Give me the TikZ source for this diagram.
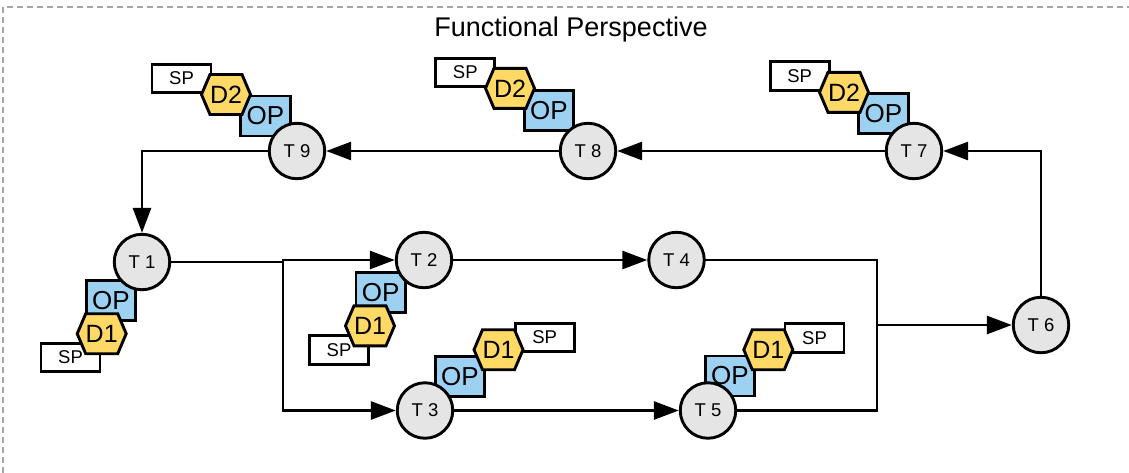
\documentclass[tikz,border=0pt]{standalone}
\usepackage{fontspec}
\setmainfont{Liberation Sans}
\usetikzlibrary{arrows.meta,calc}

\definecolor{opblue}{HTML}{9DD1F2}
\definecolor{dyellow}{HTML}{FFD966}
\definecolor{tgray}{HTML}{E5E5E5}
\definecolor{framegray}{HTML}{A6A6A6}

\tikzset{
  stroke/.style={line width=2.9pt},
  task/.style={circle, stroke, draw=black, fill=tgray, minimum size=55.5pt,
    inner sep=0pt, font=\fontsize{18.5}{20}\selectfont},
  opbox/.style={rectangle, stroke, draw=black, fill=opblue, minimum width=49.5pt,
    minimum height=40pt, inner sep=0pt, font=\fontsize{26}{28}\selectfont},
  spbox/.style={rectangle, stroke, draw=black, fill=white, minimum width=59pt,
    minimum height=28.5pt, inner sep=0pt, font=\fontsize{18.5}{20}\selectfont},
  hexshape/.style={stroke, draw=black, fill=dyellow, line join=miter},
  hexlabel/.style={inner sep=0pt, font=\fontsize{25}{27}\selectfont},
  flow/.style={line width=2.9pt, -{Triangle[length=25pt,width=18pt]}},
  link/.style={line width=2.9pt, line cap=rect},
  titletext/.style={inner sep=0pt, anchor=base, font=\fontsize{27}{30}\selectfont},
  frameline/.style={draw=framegray, line width=2pt, dash pattern=on 6pt off 4pt},
}

% yellow data hexagon with a named label node: name, centre, text
\newcommand\datahex[3]{%
  \draw[hexshape] (#2) ++(-24.5,0) -- ++(8.5,-20) -- ++(32,0) -- ++(8.5,20)
    -- ++(-8.5,20) -- ++(-32,0) -- cycle;
  \node[hexlabel] (#1) at (#2) {#3};}

\begin{document}
\begin{tikzpicture}[x=1pt,y=-1pt]
\useasboundingbox (0,0) rectangle (1129,472);
\clip (0,0) rectangle (1129,472);

% outer dashed frame and heading
\draw[frameline] (3,7) rectangle (1140,490);
\node[titletext] (title) at (571,36) {Functional Perspective};

% T9 group
\node[spbox] (sp9) at (181.5,78.5) {SP};
\node[opbox] (op9) at (265.5,116) {OP};
\datahex{d9}{226,94.5}{D2}
\node[task] (t9) at (297,151) {T 9};

% T8 group
\node[spbox] (sp8) at (465.3,72.5) {SP};
\node[opbox] (op8) at (548.8,110.8) {OP};
\datahex{d8}{510,88.3}{D2}
\node[task] (t8) at (588,151) {T 8};

% T7 group
\node[spbox] (sp7) at (799.7,75.8) {SP};
\node[opbox] (op7) at (883.3,113.3) {OP};
\datahex{d7}{844,92.3}{D2}
\node[task] (t7) at (914,151) {T 7};

% T1 group
\node[spbox] (sp1) at (70.5,357.5) {SP};
\node[opbox] (op1) at (111,300.5) {OP};
\datahex{d1}{101.7,333.7}{D1}
\node[task] (t1) at (142,262) {T 1};

% T2 group
\node[spbox] (sp2) at (339,350) {SP};
\node[opbox] (op2) at (380.7,292.7) {OP};
\datahex{d2}{370,325.8}{D1}
\node[task] (t2) at (424,260) {T 2};

% T3 group
\node[spbox] (sp3) at (544.7,337.5) {SP};
\node[opbox] (op3) at (460,376.3) {OP};
\datahex{d3}{498.5,349.7}{D1}
\node[task] (t3) at (425,410.5) {T 3};

% T5 group
\node[spbox] (sp5) at (814.5,337.8) {SP};
\node[opbox] (op5) at (730,376) {OP};
\datahex{d5}{768.3,349.7}{D1}
\node[task] (t5) at (708,410.5) {T 5};

% lone tasks
\node[task] (t4) at (676.5,260) {T 4};
\node[task] (t6) at (1041,325) {T 6};

% junction points
\coordinate (fork) at (283,262);
\coordinate (merge) at (877,325);

% control flow
\draw[flow] (t9.west) -| (t1.north);
\draw[flow] (t8.west) -- (t9.east);
\draw[flow] (t7.west) -- (t8.east);
\draw[flow] (t6.north) |- (t7.east);
\draw[link] (t1.east) -- (fork);
\draw[flow] (fork) |- (t2.west);
\draw[flow] (fork) |- (t3.west);
\draw[flow] (t2.east) -- (t4.west);
\draw[flow] (t3.east) -- (t5.west);
\draw[link] (t4.east) -| (merge);
\draw[link] (t5.east) -| (merge);
\draw[flow] (merge) -- (t6.west);
\end{tikzpicture}
\end{document}
